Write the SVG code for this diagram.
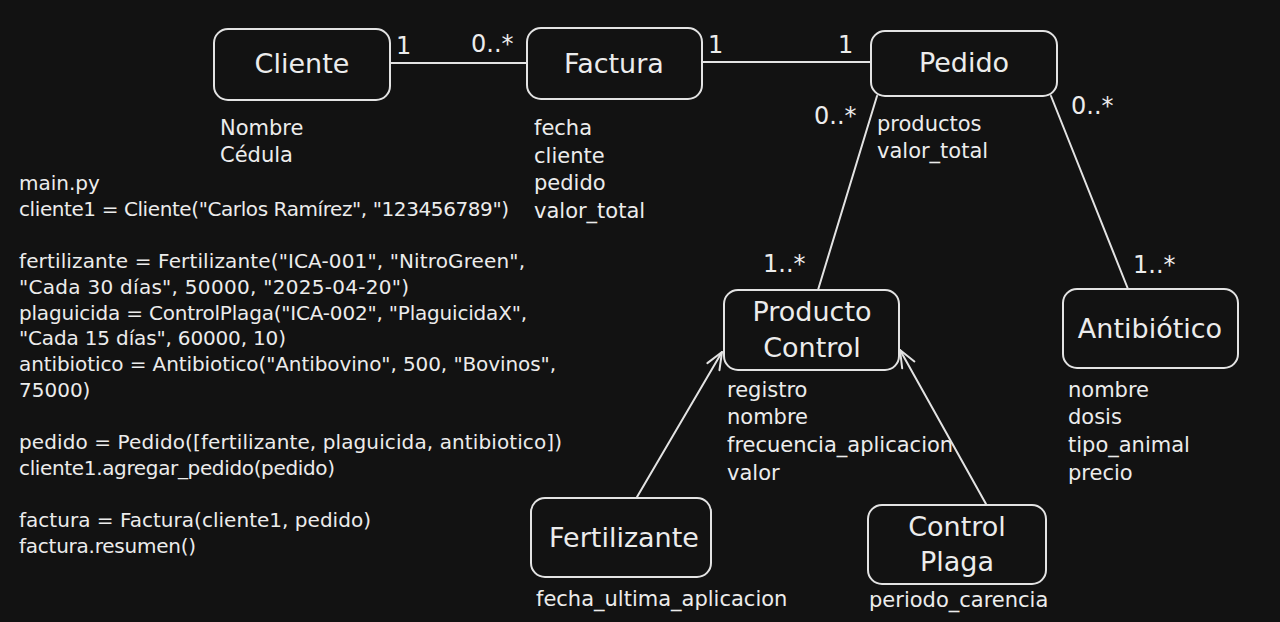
<svg xmlns="http://www.w3.org/2000/svg" width="1280" height="622" viewBox="0 0 1280 622">
<defs>
<style>
.bg{fill:#121212}
.box{fill:#121212;stroke:#e3e3e3;stroke-width:2}
.ln{fill:none;stroke:#e3e3e3;stroke-width:2;stroke-linecap:round}
.t{font-family:"DejaVu Sans","Liberation Sans",sans-serif;fill:#ececec}
.title{font-size:27px;text-anchor:middle}
.attr{font-size:21px}
.code{font-size:20px}
.mult{font-size:24px}
</style>
<marker id="arr" viewBox="0 0 20 20" refX="19" refY="10" markerWidth="20" markerHeight="20" markerUnits="userSpaceOnUse" orient="auto">
<path d="M2,3 L19,10 L2,17" fill="none" stroke="#e3e3e3" stroke-width="2" stroke-linecap="round" stroke-linejoin="round"/>
</marker>
</defs>
<rect class="bg" x="0" y="0" width="1280" height="622"/>

<g id="connectors">
<line class="ln" x1="390" y1="63" x2="527" y2="63"/>
<line class="ln" x1="702" y1="62" x2="871" y2="62"/>
<line class="ln" x1="877" y1="96" x2="818" y2="290"/>
<line class="ln" x1="1051" y1="96" x2="1128" y2="289"/>
<line class="ln" x1="637" y1="497" x2="722" y2="352" marker-end="url(#arr)"/>
<line class="ln" x1="986" y1="504" x2="900" y2="350" marker-end="url(#arr)"/>
<text class="t mult" x="396" y="54">1</text>
<text class="t mult" x="471" y="52">0..*</text>
<text class="t mult" x="708" y="53">1</text>
<text class="t mult" x="838" y="53">1</text>
<text class="t mult" x="814" y="124">0..*</text>
<text class="t mult" x="1071" y="114">0..*</text>
<text class="t mult" x="763" y="272">1..*</text>
<text class="t mult" x="1133" y="273">1..*</text>
</g>

<g id="cliente">
<rect class="box" x="214" y="29" width="176" height="71" rx="14"/>
<text class="t title" x="302" y="73">Cliente</text>
<text class="t attr" x="220"><tspan x="220" y="135">Nombre</tspan><tspan x="220" y="162">Cédula</tspan></text>
</g>

<g id="factura">
<rect class="box" x="527" y="28" width="175" height="71" rx="14"/>
<text class="t title" x="614" y="73">Factura</text>
<text class="t attr"><tspan x="534" y="135">fecha</tspan><tspan x="534" y="163">cliente</tspan><tspan x="534" y="190">pedido</tspan><tspan x="534" y="218">valor_total</tspan></text>
</g>

<g id="pedido">
<rect class="box" x="871" y="31" width="186" height="65" rx="14"/>
<text class="t title" x="964" y="72">Pedido</text>
<text class="t attr"><tspan x="877" y="131">productos</tspan><tspan x="877" y="158">valor_total</tspan></text>
</g>

<g id="producto-control">
<rect class="box" x="724" y="290" width="175" height="80" rx="14"/>
<text class="t title"><tspan x="812" y="321">Producto</tspan><tspan x="812" y="357">Control</tspan></text>
<text class="t attr"><tspan x="727" y="397">registro</tspan><tspan x="727" y="424">nombre</tspan><tspan x="727" y="452">frecuencia_aplicacion</tspan><tspan x="727" y="480">valor</tspan></text>
</g>

<g id="antibiotico">
<rect class="box" x="1063" y="289" width="175" height="79" rx="14"/>
<text class="t title" x="1150" y="338">Antibiótico</text>
<text class="t attr"><tspan x="1068" y="397">nombre</tspan><tspan x="1068" y="424">dosis</tspan><tspan x="1068" y="452">tipo_animal</tspan><tspan x="1068" y="480">precio</tspan></text>
</g>

<g id="fertilizante">
<rect class="box" x="531" y="498" width="180" height="79" rx="14"/>
<text class="t title" x="624" y="547">Fertilizante</text>
<text class="t attr" x="536" y="606">fecha_ultima_aplicacion</text>
</g>

<g id="control-plaga">
<rect class="box" x="868" y="505" width="178" height="79" rx="14"/>
<text class="t title"><tspan x="957" y="536">Control</tspan><tspan x="957" y="571">Plaga</tspan></text>
<text class="t attr" x="869" y="607">periodo_carencia</text>
</g>

<g id="code">
<text class="t code" x="19" y="190">main.py</text>
<text class="t code" x="19" y="216" textLength="490">cliente1 = Cliente("Carlos Ramírez", "123456789")</text>
<text class="t code" x="19" y="268" textLength="506">fertilizante = Fertilizante("ICA-001", "NitroGreen",</text>
<text class="t code" x="19" y="294" textLength="390">"Cada 30 días", 50000, "2025-04-20")</text>
<text class="t code" x="19" y="320" textLength="508">plaguicida = ControlPlaga("ICA-002", "PlaguicidaX",</text>
<text class="t code" x="19" y="345" textLength="267">"Cada 15 días", 60000, 10)</text>
<text class="t code" x="19" y="371" textLength="537">antibiotico = Antibiotico("Antibovino", 500, "Bovinos",</text>
<text class="t code" x="19" y="397">75000)</text>
<text class="t code" x="19" y="449" textLength="543">pedido = Pedido([fertilizante, plaguicida, antibiotico])</text>
<text class="t code" x="19" y="475" textLength="316">cliente1.agregar_pedido(pedido)</text>
<text class="t code" x="19" y="527" textLength="352">factura = Factura(cliente1, pedido)</text>
<text class="t code" x="19" y="553" textLength="177">factura.resumen()</text>
</g>
</svg>
